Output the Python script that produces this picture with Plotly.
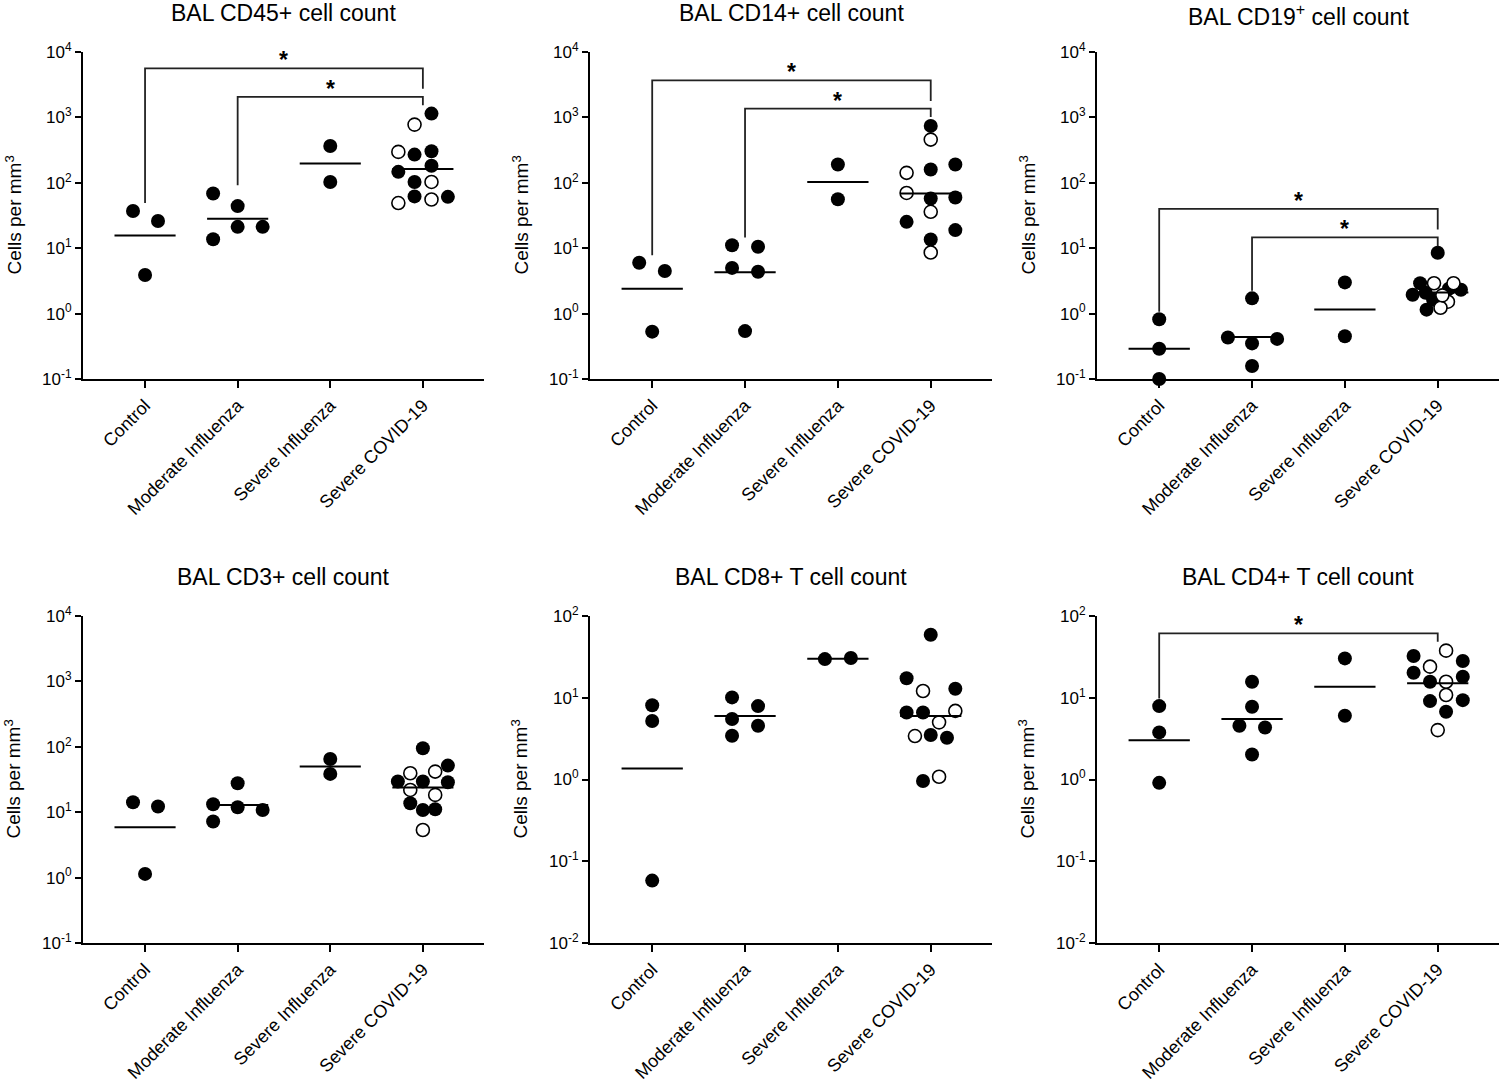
import math
import plotly.graph_objects as go

CATEGORIES = ["Control", "Moderate Influenza", "Severe Influenza", "Severe COVID-19"]
TITLES = ["BAL CD45+ cell count", "BAL CD14+ cell count", "BAL CD19<sup>+</sup> cell count",
          "BAL CD3+ cell count", "BAL CD8+ T cell count", "BAL CD4+ T cell count"]

# ---- CD45 ----
cd45_filled = [[37, 26, 3.9], [68.5, 44, 21.2, 21.2, 13.7], [366, 103],
               [1143, 270, 304, 182, 147, 103, 62, 61]]
cd45_filled_jit = [[-0.13, 0.14, 0], [-0.265, 0, 0, 0.27, -0.265], [0, 0],
                   [0.093, -0.09, 0.093, 0.093, -0.265, -0.09, -0.09, 0.27]]
cd45_open = [776, 297, 103, 55.5, 49]
cd45_open_jit = [-0.09, -0.265, 0.093, 0.093, -0.265]
cd45_center = [15.6, 28.1, 197, 163]
cd45_sig = [(0, 3, 5623, 49, 2754), (1, 3, 2056, 92, 1530)]

# ---- CD14 ----
cd14_filled = [[5.98, 4.47, 0.53], [11.1, 10.5, 5.0, 4.37, 0.54], [190, 56],
               [741, 190, 160, 57.5, 59.6, 25.3, 18.9, 13.6]]
cd14_filled_jit = [[-0.14, 0.136, 0], [-0.14, 0.14, -0.14, 0.14, 0], [0, 0],
                   [0, 0.265, 0, 0, 0.265, -0.26, 0.265, 0]]
cd14_open = [458, 142, 70, 36, 8.6]
cd14_open_jit = [0, -0.26, -0.26, 0, 0]
cd14_center = [2.4, 4.3, 103, 68.6]
cd14_sig = [(0, 3, 3690, 7.8, 1786), (1, 3, 1361, 14.6, 1016)]

# ---- CD19 ----
cd19_filled = [[0.82, 0.29, 0.1], [1.71, 0.43, 0.35, 0.41, 0.158], [3.0, 0.45],
               [8.5, 2.91, 2.40, 2.32, 1.94, 2.08, 1.63, 1.15]]
cd19_filled_jit = [[0, 0, 0], [0, -0.26, 0, 0.27, 0], [0, 0],
                   [0, -0.19, 0.12, 0.25, -0.27, -0.13, -0.05, -0.12]]
cd19_open = [2.91, 2.91, 1.52, 1.23, 1.9]
cd19_open_jit = [-0.04, 0.17, 0.11, 0.03, 0.05]
cd19_center = [0.29, 0.44, 1.16, 2.1]
cd19_sig = [(0, 3, 40, 1.07, 19.3), (1, 3, 14.6, 2.23, 10.7)]

# ---- CD3 ----
cd3_filled = [[14.2, 12.2, 1.14], [27.7, 13.2, 11.9, 10.8, 7.2], [65, 38.5],
              [95, 51.6, 29.4, 29.4, 28.7, 13.7, 10.8, 11.1]]
cd3_filled_jit = [[-0.13, 0.14, 0], [0, -0.265, 0, 0.27, -0.265], [0, 0],
                  [0, 0.27, -0.27, 0, 0.27, -0.136, 0, 0.133]]
cd3_open = [41.8, 39.4, 21.9, 18.4, 5.35]
cd3_open_jit = [0.133, -0.136, -0.136, 0.133, 0]
cd3_center = [5.9, 12.9, 49.8, 23.8]
cd3_sig = []

# ---- CD8 ----
cd8_filled = [[8.1, 5.2, 0.058], [10.1, 7.9, 5.5, 4.54, 3.43], [29.7, 30.6],
              [59, 17.3, 12.9, 6.6, 6.6, 3.5, 3.24, 0.96]]
cd8_filled_jit = [[0, 0, 0], [-0.14, 0.14, -0.14, 0.14, -0.14], [-0.14, 0.14],
                  [0, -0.26, 0.265, -0.26, -0.083, 0, 0.175, -0.083]]
cd8_open = [12.1, 6.9, 5.0, 3.4, 1.08]
cd8_open_jit = [-0.083, 0.265, 0.09, -0.17, 0.09]
cd8_center = [1.36, 5.97, 30, 5.97]
cd8_sig = []

# ---- CD4 ----
cd4_filled = [[7.9, 3.77, 0.91], [15.7, 7.76, 4.54, 4.33, 2.02], [30.3, 6.03],
              [32.4, 28.1, 20.2, 18.1, 15.7, 9.1, 9.35, 6.75]]
cd4_filled_jit = [[0, 0, 0], [0, 0, -0.136, 0.14, 0], [0, 0],
                  [-0.26, 0.27, -0.26, 0.27, -0.083, -0.083, 0.27, 0.09]]
cd4_open = [37.7, 24, 15.7, 10.8, 4.02]
cd4_open_jit = [0.09, -0.083, 0.09, 0.09, 0]
cd4_center = [3.03, 5.48, 13.6, 15.0]
cd4_sig = [(0, 3, 61.4, 9.8, 48.5)]

Y_RANGES = [(-1, 4), (-1, 4), (-1, 4), (-1, 4), (-2, 2), (-2, 2)]

panels = [
    (cd45_filled, cd45_filled_jit, cd45_open, cd45_open_jit, cd45_center, cd45_sig),
    (cd14_filled, cd14_filled_jit, cd14_open, cd14_open_jit, cd14_center, cd14_sig),
    (cd19_filled, cd19_filled_jit, cd19_open, cd19_open_jit, cd19_center, cd19_sig),
    (cd3_filled, cd3_filled_jit, cd3_open, cd3_open_jit, cd3_center, cd3_sig),
    (cd8_filled, cd8_filled_jit, cd8_open, cd8_open_jit, cd8_center, cd8_sig),
    (cd4_filled, cd4_filled_jit, cd4_open, cd4_open_jit, cd4_center, cd4_sig),
]

W, H = 1500, 1084
PX_X = [(83, 484), (590, 992), (1097, 1499)]
PX_Y = [(52, 379), (616, 943)]
TITLE_Y = [[13, 13, 15], [577, 577, 577]]
FONT = "Liberation Sans, Arial, sans-serif"


def fx_(px):
    return px / W


def fy_(py):
    return 1 - py / H


fig = go.Figure()
annotations = []
layout = {}

for k, (filled, fjit, opn, ojit, center, sig) in enumerate(panels):
    r, c = divmod(k, 3)
    suffix = "" if k == 0 else str(k + 1)
    xref, yref = "x" + suffix, "y" + suffix
    covid = len(CATEGORIES) - 1

    fx, fy = [], []
    for g, (vals, jits) in enumerate(zip(filled, fjit)):
        for v, j in zip(vals, jits):
            fx.append(g + j)
            fy.append(v)
    fig.add_trace(go.Scatter(x=fx, y=fy, mode="markers", xaxis=xref, yaxis=yref,
                             marker=dict(size=14, color="black", line=dict(width=0)),
                             showlegend=False, hoverinfo="skip", cliponaxis=False))
    fig.add_trace(go.Scatter(x=[covid + j for j in ojit], y=opn, mode="markers",
                             xaxis=xref, yaxis=yref,
                             marker=dict(size=13, color="white", line=dict(width=1.6, color="black")),
                             showlegend=False, hoverinfo="skip", cliponaxis=False))
    mx, my = [], []
    for g, m in enumerate(center):
        mx += [g - 0.33, g + 0.33, None]
        my += [m, m, None]
    fig.add_trace(go.Scatter(x=mx, y=my, mode="lines", xaxis=xref, yaxis=yref,
                             line=dict(color="black", width=2),
                             showlegend=False, hoverinfo="skip"))
    for (g1, g2, top, lb, rb) in sig:
        fig.add_trace(go.Scatter(x=[g1, g1, g2, g2], y=[lb, top, top, rb], mode="lines",
                                 xaxis=xref, yaxis=yref,
                                 line=dict(color="#222", width=1.8),
                                 showlegend=False, hoverinfo="skip"))
        annotations.append(dict(x=(g1 + g2) / 2, y=math.log10(top), xref=xref, yref=yref,
                                text="<b>*</b>", showarrow=False, yanchor="bottom",
                                yshift=-7, font=dict(size=23, color="black", family=FONT)))

    x0, x1 = PX_X[c]
    y0, y1 = PX_Y[r]
    lo, hi = Y_RANGES[k]
    layout["xaxis" + suffix] = dict(
        domain=[fx_(x0), fx_(x1)], anchor=yref, range=[-0.67, 3.66], automargin=False,
        tickvals=list(range(len(CATEGORIES))), ticktext=CATEGORIES, tickangle=-45,
        tickfont=dict(size=18, color="black", family=FONT),
        ticks="outside", ticklen=7, tickwidth=2, tickcolor="black",
        showline=True, linewidth=2, linecolor="black", showgrid=False, zeroline=False)
    layout["yaxis" + suffix] = dict(
        domain=[fy_(y1), fy_(y0)], anchor=xref, type="log", range=[lo, hi],
        automargin=False,
        tickvals=[10 ** e for e in range(lo, hi + 1)],
        ticktext=["10<sup>%d</sup>" % e for e in range(lo, hi + 1)],
        tickfont=dict(size=17, color="black", family=FONT),
        ticks="outside", ticklen=6, tickwidth=2, tickcolor="black",
        showline=True, linewidth=2, linecolor="black", showgrid=False, zeroline=False)

    annotations.append(dict(x=fx_((x0 + x1) / 2), y=fy_(TITLE_Y[r][c]), xref="paper", yref="paper",
                            text=TITLES[k], showarrow=False, xanchor="center", yanchor="middle",
                            font=dict(size=23, color="black", family=FONT)))
    annotations.append(dict(x=fx_(x0 - 70), y=fy_((y0 + y1) / 2), xref="paper", yref="paper",
                            text="Cells per mm<sup>3</sup>", textangle=-90, showarrow=False,
                            xanchor="center", yanchor="middle",
                            font=dict(size=19, color="black", family=FONT)))

fig.update_layout(width=W, height=H, margin=dict(l=0, r=0, t=0, b=0, autoexpand=False),
                  paper_bgcolor="white", plot_bgcolor="white",
                  annotations=annotations, showlegend=False, **layout)

# remove the default page margin so the figure fills the window exactly
fig.write_html("out.html", config={"displayModeBar": False},
               post_script="document.body.style.margin='0px';document.body.style.overflow='hidden';")
